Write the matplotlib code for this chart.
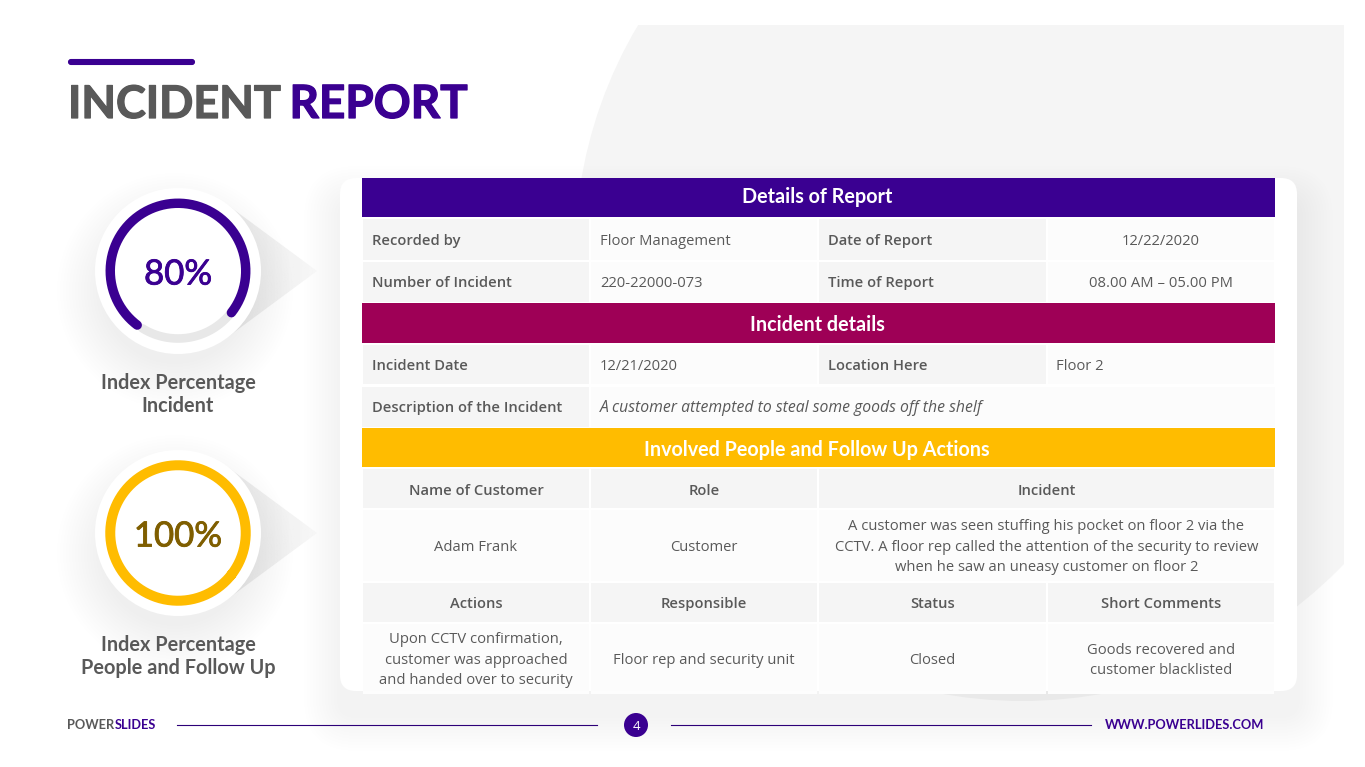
#!/usr/bin/env python3

import numpy as np
import matplotlib
matplotlib.use("Agg")
import matplotlib.pyplot as plt
import matplotlib.patheffects as pe
from matplotlib.patches import Circle, FancyBboxPatch, Polygon, Rectangle

PURPLE = "#3a0091"
CRIMSON = "#9e0056"
AMBER = "#ffbc00"
DARK = "#595959"
HEAD_FONT = "Lato"
BODY_FONT = "Open Sans"
BODY = 10.6

# table text
section_titles = ["Details of Report", "Incident details", "Involved People and Follow Up Actions"]
report_rows = [
    ["Recorded by", "Floor Management", "Date of Report", "12/22/2020"],
    ["Number of Incident", "220-22000-073", "Time of Report", "08.00 AM \u2013 05.00 PM"],
]
incident_row = ["Incident Date", "12/21/2020", "Location Here", "Floor 2"]
description = ["Description of the Incident", "A customer attempted to steal some goods off the shelf"]
people_head = ["Name of Customer", "Role", "Incident"]
people_row = [
    "Adam Frank",
    "Customer",
    "A customer was seen stuffing his pocket on floor 2 via the\nCCTV. A floor rep called the attention of the security to review\nwhen he saw an uneasy customer on floor 2",
]
action_head = ["Actions", "Responsible", "Status", "Short Comments"]
action_row = [
    "Upon CCTV confirmation,\ncustomer was approached\nand handed over to security",
    "Floor rep and security unit",
    "Closed",
    "Goods recovered and\ncustomer blacklisted",
]

# gauges
gauge_labels = ["80%", "100%"]
gauge_captions = ["Index Percentage\nIncident", "Index Percentage\nPeople and Follow Up"]
gauge_sweep = [271, 360]

COLS = [362, 590, 818, 1047, 1275]


def txt(ax, x, y, s, size, color=DARK, family=BODY_FONT, weight="normal", ha="left", style="normal", pitch=20.5):
    # y is the visual middle of the capitals, lines are set on their baseline
    lines = s.split("\n")
    y0 = y - pitch * (len(lines) - 1) / 2
    drop = size / 0.72 * 0.36
    out = []
    for i, line in enumerate(lines):
        out.append(ax.text(x, y0 + i * pitch + drop, line, fontsize=size, color=color, family=family,
                           weight=weight, ha=ha, va="baseline", style=style, zorder=8))
    return out


def cell(ax, x0, x1, y0, y1, color):
    ax.add_patch(Rectangle((x0, y0), x1 - x0, y1 - y0, fc=color, ec="none", zorder=5))


def band(ax, y0, y1, color, title, ymid):
    cell(ax, COLS[0], COLS[-1], y0, y1, color)
    txt(ax, (COLS[0] + COLS[-1]) / 2 - 1.5, ymid, title, 14.2, "white", HEAD_FONT, "bold", "center")


def gauge(ax, cy, label, caption, sweep, color, text_color, lw):
    cx = 178
    # pointer behind the disc
    tri = Polygon([(225, cy - 68), (317, cy), (225, cy + 68)], closed=True, fc="none", ec="none",
                  transform=ax.transData)
    ax.add_patch(tri)
    grad = np.linspace(0.915, 0.965, 64).reshape(1, -1)
    im = ax.imshow(grad, extent=(225, 317, cy + 68, cy - 68), cmap="gray", vmin=0, vmax=1,
                   aspect="auto", zorder=2)
    im.set_clip_path(tri)
    # soft shadow, mostly below the disc
    for r in np.arange(118, 70, -3):
        ax.add_patch(Circle((cx - 3, cy + 20), r, fc="black", ec="none", alpha=0.0028, zorder=2))
    ax.add_patch(Circle((cx, cy), 83, fc="white", ec="none", zorder=3))
    if sweep < 360:
        t = np.radians(np.linspace(-122, -38, 60))
        ax.plot(cx + 67.5 * np.cos(t), cy - 67.5 * np.sin(t), color="#e8e8e8", lw=6.2,
                solid_capstyle="round", zorder=4)
    start = np.radians(-38)
    t = np.linspace(start, start + np.radians(sweep), 300)
    ax.plot(cx + 67.75 * np.cos(t), cy - 67.75 * np.sin(t), color=color, lw=lw,
            solid_capstyle="round", zorder=5)
    for t_ in txt(ax, cx, cy + 1, label, 25, text_color, HEAD_FONT, "normal", "center"):
        t_.set_path_effects([pe.withStroke(linewidth=0.6, foreground=text_color)])
    txt(ax, cx, cy + 122.5, caption, 14.3, DARK, HEAD_FONT, "bold", "center", pitch=23)


def main():
    fig = plt.figure(figsize=(13.65, 7.67), dpi=100, facecolor="white")
    ax = fig.add_axes([0, 0, 1, 1])
    ax.set_xlim(0, 1365)
    ax.set_ylim(767, 0)
    ax.axis("off")

    # background blob
    blob = Circle((1022, 254), 447, fc="#f5f5f5", ec="none", zorder=1)
    ax.add_patch(blob)
    blob.set_clip_path(Rectangle((0, 25), 1344, 742, transform=ax.transData))

    # title
    ax.add_patch(FancyBboxPatch((69, 60), 125, 4, boxstyle="round,pad=0,rounding_size=2",
                                fc=PURPLE, ec=PURPLE, lw=1.5, zorder=3))
    thick = 0.9
    ax.text(68, 118, "INCIDENT", fontsize=32.4, color=DARK, family=HEAD_FONT, weight="bold", va="baseline",
            path_effects=[pe.withStroke(linewidth=thick, foreground=DARK)])
    ax.text(289.5, 118, "REPORT", fontsize=33, color=PURPLE, family=HEAD_FONT, weight="bold", va="baseline",
            path_effects=[pe.withStroke(linewidth=thick, foreground=PURPLE)])

    # card + shadow
    for pad in np.arange(36, 0, -3):
        ax.add_patch(FancyBboxPatch((340 - pad, 178 + 24 - pad), 957 + 2 * pad, 513 + 2 * pad,
                                    boxstyle="round,pad=0,rounding_size=%d" % (16 + pad),
                                    fc="black", ec="none", alpha=0.0055, zorder=2))
    ax.add_patch(FancyBboxPatch((340, 178), 957, 513, boxstyle="round,pad=0,rounding_size=16",
                                fc="white", ec="none", zorder=3))

    light = "#f5f5f5"
    pale = "#fcfcfc"

    band(ax, 178, 217, PURPLE, section_titles[0], 196)
    for (y0, y1), row in zip([(219, 260), (262, 302)], report_rows):
        for i, s in enumerate(row):
            shaded = i % 2 == 0
            cell(ax, COLS[i] + 1, COLS[i + 1] - 1, y0, y1, light if shaded else pale)
            if shaded:
                txt(ax, COLS[i] + 9.5, (y0 + y1) / 2, s, BODY, weight="semibold")
            elif i == 3:
                txt(ax, (COLS[3] + COLS[4]) / 2, (y0 + y1) / 2, s, BODY, ha="center")
            else:
                txt(ax, COLS[i] + 10, (y0 + y1) / 2, s, BODY)

    band(ax, 303, 343, CRIMSON, section_titles[1], 323.5)
    y0, y1 = 345, 384
    for i, s in enumerate(incident_row):
        shaded = i % 2 == 0
        cell(ax, COLS[i] + 1, COLS[i + 1] - 1, y0, y1, light if shaded else pale)
        txt(ax, COLS[i] + 9.5, (y0 + y1) / 2, s, BODY, weight="semibold" if shaded else "normal")
    y0, y1 = 387, 427
    cell(ax, COLS[0], COLS[1] - 1, y0, y1, light)
    cell(ax, COLS[1] + 1, COLS[4], y0, y1, pale)
    txt(ax, COLS[0] + 9.5, 406.5, description[0], BODY, weight="semibold")
    txt(ax, COLS[1] + 10, 406.5, description[1], 11.37, style="italic")

    band(ax, 428, 467, AMBER, section_titles[2], 449)
    spans = [(COLS[0], COLS[1]), (COLS[1], COLS[2]), (COLS[2], COLS[4])]
    for (x0, x1), head, body in zip(spans, people_head, people_row):
        cell(ax, x0 + 1, x1 - 1, 469, 508, light)
        cell(ax, x0 + 1, x1 - 1, 510, 581, pale)
        txt(ax, (x0 + x1) / 2, 489.5, head, BODY, weight="semibold", ha="center")
        txt(ax, (x0 + x1) / 2, 545.5, body, BODY, ha="center")
    for i, (head, body) in enumerate(zip(action_head, action_row)):
        x0, x1 = COLS[i], COLS[i + 1]
        cell(ax, x0 + 1, x1 - 1, 583, 622, light)
        cell(ax, x0 + 1, x1 - 1, 624, 691, pale)
        # the last row runs a little past the card
        cell(ax, x0 + 1, x1 - 1, 691, 694, "#fdfdfd")
        txt(ax, (x0 + x1) / 2, 602.5, head, BODY, weight="semibold", ha="center")
        txt(ax, (x0 + x1) / 2, 658.5, body, BODY, ha="center")

    # gauges
    gauge(ax, 271, gauge_labels[0], gauge_captions[0], gauge_sweep[0], PURPLE, PURPLE, 6.8)
    gauge(ax, 533, gauge_labels[1], gauge_captions[1], gauge_sweep[1], AMBER, "#7f5e00", 7.2)

    # footer
    ax.text(67, 729, "POWER", fontsize=9.2, color=DARK, family=HEAD_FONT, weight="bold", va="baseline")
    ax.text(115, 729, "SLIDES", fontsize=9.2, color=PURPLE, family=HEAD_FONT, weight="bold", va="baseline")
    ax.plot([177, 597], [725, 725], color="#2d0078", lw=0.8, zorder=4)
    ax.plot([671, 1091], [725, 725], color="#2d0078", lw=0.8, zorder=4)
    ax.add_patch(Circle((636, 725), 12, fc=PURPLE, ec="none", zorder=4))
    txt(ax, 636, 725, "4", 9.5, "white", ha="center")
    ax.text(1264.5, 729, "WWW.POWERLIDES.COM", fontsize=9.3, color=PURPLE, family=HEAD_FONT,
            weight="bold", ha="right", va="baseline")

    ax.set_xlim(0, 1365)
    ax.set_ylim(767, 0)
    fig.savefig("out.png", dpi=100, facecolor="white")


if __name__ == "__main__":
    main()
